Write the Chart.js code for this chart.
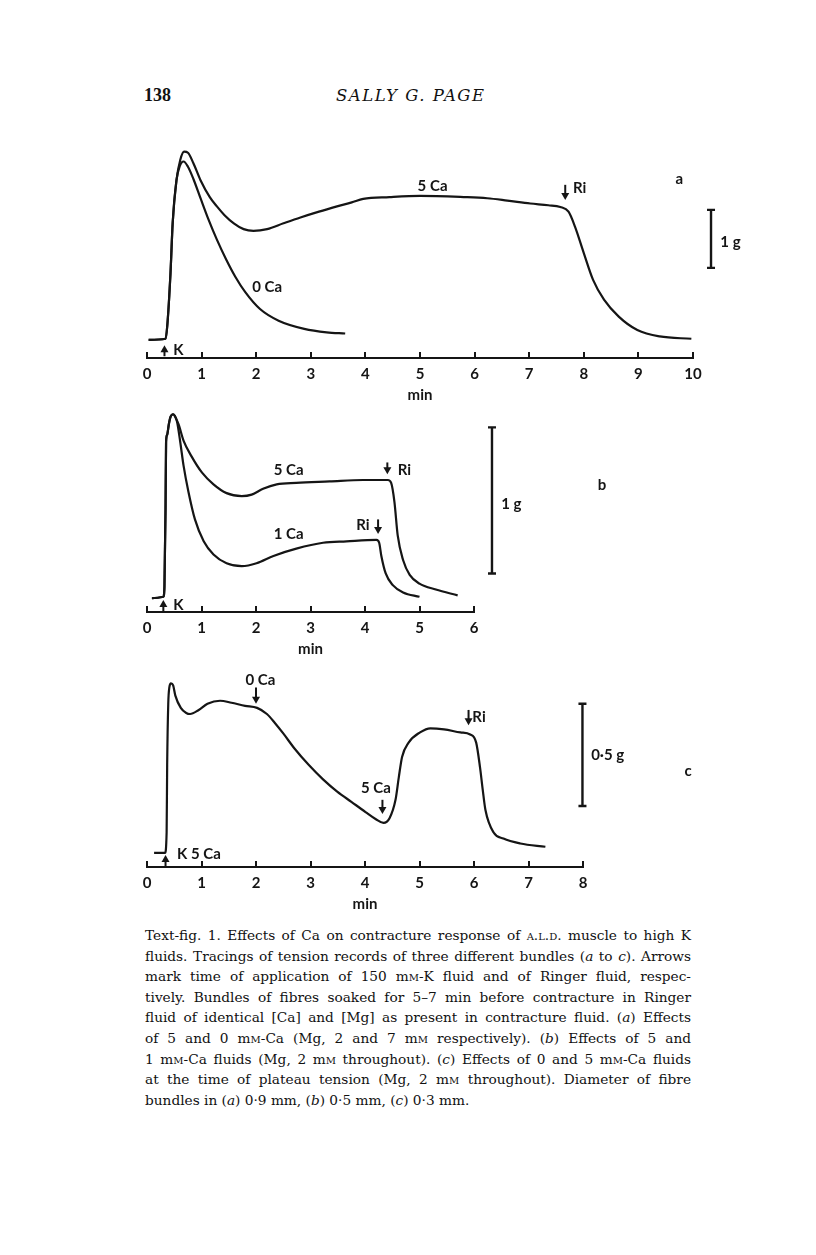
<!DOCTYPE html>
<html><head><meta charset="utf-8">
<script src="https://cdn.jsdelivr.net/npm/chart.js@4"></script>
<style>
html,body{margin:0;padding:0;background:#fff;}
body{width:816px;height:1255px;position:relative;overflow:hidden;}
canvas.c{position:absolute;left:0;}
#num{position:absolute;left:144px;top:85px;font:bold 18px "Liberation Serif";color:#111;}
#ttl{position:absolute;left:336px;top:86px;font:italic 16.5px "DejaVu Serif";letter-spacing:1.5px;color:#111;}
#cap{position:absolute;left:145px;top:925px;width:546px;font:13.7px "DejaVu Serif";line-height:20.6px;color:#111;}
#cap div{text-align:justify;text-align-last:justify;white-space:nowrap;}
#cap div.last{text-align-last:left;}
.sc{font-variant:small-caps;}
</style></head>
<body>
<div id="num">138</div>
<div id="ttl">SALLY G. PAGE</div>
<canvas class="c" id="ca" width="816" height="300" style="top:120px"></canvas>
<canvas class="c" id="cb" width="816" height="285" style="top:395px"></canvas>
<canvas class="c" id="cc" width="816" height="270" style="top:650px"></canvas>
<div id="cap">
<div>Text-fig. 1. Effects of Ca on contracture response of <span class="sc">a.l.d.</span> muscle to high K</div>
<div>fluids. Tracings of tension records of three different bundles (<i>a</i> to <i>c</i>). Arrows</div>
<div>mark time of application of 150 m<span class="sc">m</span>-K fluid and of Ringer fluid, respec-</div>
<div>tively. Bundles of fibres soaked for 5–7 min before contracture in Ringer</div>
<div>fluid of identical [Ca] and [Mg] as present in contracture fluid. (<i>a</i>) Effects</div>
<div>of 5 and 0 m<span class="sc">m</span>-Ca (Mg, 2 and 7 m<span class="sc">m</span> respectively). (<i>b</i>) Effects of 5 and</div>
<div>1 m<span class="sc">m</span>-Ca fluids (Mg, 2 m<span class="sc">m</span> throughout). (<i>c</i>) Effects of 0 and 5 m<span class="sc">m</span>-Ca fluids</div>
<div>at the time of plateau tension (Mg, 2 m<span class="sc">m</span> throughout). Diameter of fibre</div>
<div class="last">bundles in (<i>a</i>) 0·9 mm, (<i>b</i>) 0·5 mm, (<i>c</i>) 0·3 mm.</div>
</div>
<script>
// ---------- DATA (time in min, tension in g above resting level) ----------
// (a) 5 Ca and 0 Ca
const aTime5 = [0.03,0.34,0.37,0.43,0.47,0.54,0.61,0.68,0.75,0.85,0.98,1.15,1.28,1.42,1.59,1.77,1.95,2.2,2.5,2.81,3.15,3.48,3.75,3.96,4.44,5.0,5.8,6.23,6.6,7.02,7.35,7.57,7.72,7.84,8.0,8.17,8.37,8.64,8.98,9.39,9.97];
const aTens5 = [0,0.02,0.23,1.14,2.0,2.74,3.09,3.23,3.21,3.03,2.74,2.45,2.29,2.14,2.0,1.90,1.87,1.90,2.0,2.10,2.20,2.29,2.36,2.42,2.45,2.47,2.45,2.43,2.39,2.34,2.31,2.28,2.20,1.94,1.49,1.03,0.69,0.40,0.17,0.06,0.02];
const aTime0 = [0.03,0.34,0.37,0.43,0.47,0.54,0.60,0.67,0.75,0.85,0.98,1.12,1.28,1.45,1.62,1.80,2.07,2.41,2.88,3.29,3.63];
const aTens0 = [0,0.02,0.23,1.14,2.0,2.74,2.98,3.06,2.97,2.76,2.43,2.08,1.72,1.38,1.08,0.82,0.53,0.33,0.19,0.13,0.11];
// (b) 5 Ca and 1 Ca
const bTime5 = [0.09,0.30,0.32,0.34,0.35,0.37,0.40,0.43,0.48,0.52,0.58,0.67,0.82,1.01,1.22,1.46,1.74,1.92,2.13,2.38,2.74,3.35,3.96,4.42,4.48,4.54,4.60,4.70,4.82,5.0,5.30,5.70];
const bTens5 = [0,0.01,0.08,0.61,1.07,1.12,1.19,1.24,1.26,1.24,1.19,1.08,0.97,0.86,0.78,0.72,0.70,0.71,0.75,0.78,0.79,0.80,0.81,0.81,0.79,0.66,0.43,0.26,0.16,0.10,0.06,0.02];
const bTime1 = [0.09,0.30,0.32,0.34,0.35,0.37,0.40,0.43,0.48,0.55,0.61,0.67,0.76,0.88,1.04,1.22,1.46,1.74,2.01,2.32,2.74,3.23,3.66,4.21,4.26,4.30,4.38,4.51,4.70,5.0];
const bTens1 = [0,0.01,0.08,0.61,1.07,1.12,1.19,1.24,1.26,1.21,1.07,0.91,0.73,0.54,0.39,0.30,0.24,0.22,0.24,0.29,0.34,0.38,0.39,0.40,0.38,0.29,0.17,0.09,0.04,0.01];
// (c) K 5 Ca -> 0 Ca -> 5 Ca -> Ringer
const cTime = [0.13,0.33,0.36,0.37,0.39,0.41,0.44,0.48,0.52,0.62,0.72,0.79,0.95,1.11,1.34,1.55,1.80,2.02,2.20,2.35,2.50,2.71,2.97,3.23,3.49,3.75,4.01,4.20,4.34,4.45,4.56,4.62,4.68,4.80,5.01,5.20,5.45,5.75,5.93,6.04,6.11,6.16,6.21,6.36,6.54,6.85,7.31];
const cTens = [0,0,0.10,0.43,0.73,0.81,0.83,0.82,0.77,0.71,0.685,0.68,0.70,0.73,0.745,0.735,0.72,0.71,0.68,0.635,0.585,0.51,0.43,0.36,0.30,0.25,0.20,0.165,0.147,0.17,0.26,0.37,0.47,0.54,0.59,0.61,0.605,0.59,0.58,0.54,0.42,0.31,0.21,0.10,0.07,0.046,0.03];

// axis extents (min)
const aXmax = 10, bXmax = 6, cXmax = 8;

// annotations: [text, time, tension, align]
const aLabels = [["5 Ca",5.23,2.63,"center"],["0 Ca",2.2,0.91,"center"],["Ri",7.8,2.6,"left"],["K",0.48,-0.17,"left"],["a",9.75,2.75,"center"],["1 g",10.5,1.68,"left"]];
const aArrows = [[7.66,2.66,2.40],[0.32,-0.28,-0.09]]; // time, from, to
const aBar = [10.33,1.235,2.23];
const bLabels = [["5 Ca",2.6,0.88,"center"],["1 Ca",2.6,0.44,"center"],["Ri",4.6,0.88,"left"],["Ri",3.96,0.50,"center"],["K",0.48,-0.046,"left"],["b",8.35,0.776,"center"],["1 g",6.5,0.645,"left"]];
const bArrows = [[4.41,0.93,0.85],[4.24,0.54,0.44],[0.30,-0.094,-0.012]];
const bBar = [6.33,0.17,1.17];
const cLabels = [["0 Ca",2.08,0.845,"center"],["5 Ca",4.2,0.315,"center"],["Ri",5.97,0.667,"left"],["K 5 Ca",0.55,-0.008,"left"],["0·5 g",8.15,0.48,"left"],["c",9.93,0.40,"center"]];
const cArrows = [[2.0,0.81,0.73],[4.32,0.26,0.19],[5.9,0.70,0.625],[0.34,-0.069,-0.01]];
const cBar = [7.99,0.23,0.73];

// ---------- RENDERING ----------
const INK = '#151515';
const FONT = 'Lato, "Open Sans", sans-serif';

const annot = {
  id: 'annot',
  afterDraw(chart, args, o) {
    const {ctx} = chart; const x = chart.scales.x, y = chart.scales.y;
    ctx.save();
    ctx.strokeStyle = INK; ctx.fillStyle = INK; ctx.lineCap = 'butt';
    // upward tick marks on the time axis
    const ay = x.top;
    ctx.lineWidth = 2;
    x.ticks.forEach(t => {
      const px = Math.round(x.getPixelForValue(t.value));
      ctx.beginPath(); ctx.moveTo(px, ay + 1); ctx.lineTo(px, ay - 6); ctx.stroke();
    });
    // text labels
    ctx.font = 'bold 15px ' + FONT; ctx.textBaseline = 'middle';
    o.labels.forEach(([txt, t, g, al]) => {
      ctx.textAlign = al;
      ctx.fillText(txt, x.getPixelForValue(t), y.getPixelForValue(g));
    });
    // arrows
    ctx.lineWidth = 2;
    o.arrows.forEach(([t, g0, g1]) => {
      const px = x.getPixelForValue(t), p0 = y.getPixelForValue(g0), p1 = y.getPixelForValue(g1);
      const d = Math.sign(p1 - p0);
      ctx.beginPath(); ctx.moveTo(px, p0); ctx.lineTo(px, p1 - d * 4); ctx.stroke();
      ctx.beginPath(); ctx.moveTo(px, p1); ctx.lineTo(px - 4, p1 - d * 7); ctx.lineTo(px + 4, p1 - d * 7); ctx.closePath(); ctx.fill();
    });
    // calibration bar
    const [bt, b0, b1] = o.bar;
    const bx = x.getPixelForValue(bt), by0 = y.getPixelForValue(b0), by1 = y.getPixelForValue(b1);
    ctx.lineWidth = 2.4;
    ctx.beginPath(); ctx.moveTo(bx, by0); ctx.lineTo(bx, by1);
    ctx.moveTo(bx - 4, by0); ctx.lineTo(bx + 4, by0);
    ctx.moveTo(bx - 4, by1); ctx.lineTo(bx + 4, by1); ctx.stroke();
    ctx.restore();
  }
};

function series(t, g) { return t.map((v, i) => ({x: v, y: g[i]})); }

function makeChart(id, sets, xmax, ymin, ymax, pad, ann) {
  return new Chart(document.getElementById(id), {
    type: 'line',
    data: { datasets: sets.map(d => ({
      data: d, borderColor: INK, borderWidth: 2.2, pointRadius: 0,
      cubicInterpolationMode: 'monotone', fill: false, clip: 20 })) },
    options: {
      responsive: false, animation: false, events: [],
      layout: {padding: pad},
      plugins: {legend: {display: false}, tooltip: {enabled: false}, annot: ann},
      scales: {
        x: {
          type: 'linear', min: 0, max: xmax,
          afterFit: s => { s.height = 50; },
          grid: {display: false, drawTicks: false},
          border: {display: true, color: INK, width: 2},
          ticks: {stepSize: 1, color: INK, padding: 7, maxRotation: 0, autoSkip: false,
                  font: {family: FONT, weight: 'bold', size: 15}},
          title: {display: true, text: 'min', color: INK,
                  font: {family: FONT, weight: 'bold', size: 15}, padding: {top: 0, bottom: 4}}
        },
        y: {display: false, min: ymin, max: ymax}
      }
    },
    plugins: [annot]
  });
}

makeChart('ca', [series(aTime5, aTens5), series(aTime0, aTens0)], aXmax, -0.31, 3.446,
  {left: 147, right: 123, top: 19, bottom: 12}, {labels: aLabels, arrows: aArrows, bar: aBar});
makeChart('cb', [series(bTime5, bTens5), series(bTime1, bTens1)], bXmax, -0.094, 1.296,
  {left: 147, right: 342, top: 14, bottom: 18}, {labels: bLabels, arrows: bArrows, bar: bBar});
makeChart('cc', [series(cTime, cTens)], cXmax, -0.069, 0.92,
  {left: 147, right: 233, top: 15, bottom: 3}, {labels: cLabels, arrows: cArrows, bar: cBar});
</script>
</body></html>
